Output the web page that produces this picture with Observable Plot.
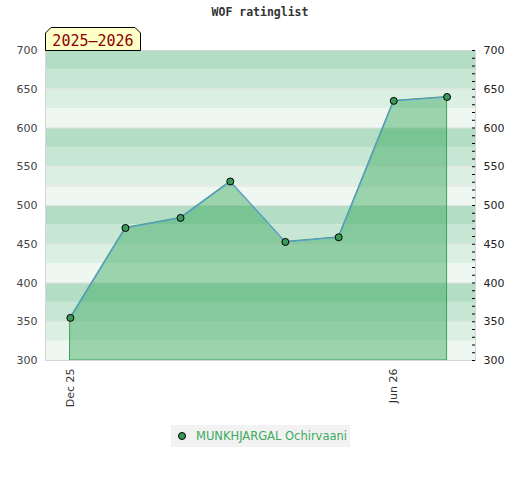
<!DOCTYPE html>
<html>
<head>
<meta charset="utf-8">
<script src="https://cdn.jsdelivr.net/npm/d3@7"></script>
<script src="https://cdn.jsdelivr.net/npm/@observablehq/plot@0.6"></script>
<style>
  body { margin: 0; background: #fff; }
  #wrap { position: relative; width: 520px; height: 480px; font-family: "DejaVu Sans", sans-serif; }
  #title { position: absolute; left: 0; top: 5px; width: 520px; text-align: center; font: bold 11.5px "DejaVu Sans Mono", monospace; color: #333; }
  #season { position: absolute; left: 45px; top: 27px; }
  #legend { position: absolute; left: 171px; top: 425px; width: 179px; height: 22px; background: #f2f2f2; display: flex; align-items: center; font-size: 11.5px; color: #3aaa5c; white-space: nowrap; }
  #legend .dot { width: 6px; height: 6px; border-radius: 50%; background: #3a9a5a; border: 1px solid #000; margin: 0 10px 0 7px; flex: none; }
  #chart { position: absolute; left: 0; top: 0; }
</style>
</head>
<body>
<div id="wrap">
  <div id="chart"></div>
  <div id="title"></div>
  <svg id="season" width="96" height="24"></svg>
  <div id="legend"><span class="dot"></span><span id="legendText"></span></div>
</div>
<script>
// ---- data ----
const titleText = "WOF ratinglist";
const seasonText = "2025\u20132026";
const playerName = "MUNKHJARGAL Ochirvaani";
const dates = ["2025-12-01","2026-01-01","2026-02-01","2026-03-01","2026-04-01","2026-05-01","2026-06-01","2026-07-01"];
const ratings = [355, 471, 484, 531, 453, 459, 635, 640];
const xTickDates = ["2025-12-01", "2026-06-01"];
const yMajorTicks = [300, 350, 400, 450, 500, 550, 600, 650, 700];
const yMinorTicks = [300,310,320,330,340,350,360,370,380,390,400,410,420,430,440,450,460,470,480,490,500,510,520,530,540,550,560,570,580,590,600,610,620,630,640,650,660,670,680,690,700];
const bandLows = [300,325,350,375,400,425,450,475,500,525,550,575,600,625,650,675];
const bandShades = ["#eef7f1", "#dcefe3", "#c8e6d4", "#b3ddc4"];
const bandLines = [350, 400, 450, 500, 525, 550, 600, 650];
const xDomain = ["2025-11-17", "2026-07-17"];
const yDomain = [300, 700];

const data = dates.map((d, i) => ({date: new Date(d), rating: ratings[i]}));
const bands = bandLows.map(lo => ({lo, hi: lo + 25, shade: bandShades[((lo - 300) % 100) / 25]}));

document.getElementById("title").textContent = titleText;
document.getElementById("legendText").textContent = playerName;

// season tag
const s = d3.select("#season");
s.append("path").attr("d", "M0.5,23.5 L0.5,6 L6,0.5 L90,0.5 L95.5,6 L95.5,23.5 Z")
  .attr("fill", "#ffffc8").attr("stroke", "#000").attr("stroke-width", 1);
s.append("text").attr("x", 48).attr("y", 19).attr("text-anchor", "middle")
  .attr("font-family", "DejaVu Sans Mono, monospace").attr("font-size", 15).attr("fill", "#8b0000")
  .text(seasonText);

const chart = Plot.plot({
  width: 520,
  height: 480,
  marginLeft: 45,
  marginRight: 45,
  marginTop: 50,
  marginBottom: 120,
  style: {fontFamily: "DejaVu Sans, sans-serif", fontSize: "11px", color: "#333", background: "transparent"},
  x: {type: "utc", domain: xDomain.map(d => new Date(d))},
  y: {domain: yDomain},
  marks: [
    Plot.rectY(bands, {y1: "lo", y2: "hi", fill: "shade"}),
    Plot.ruleY(bandLines, {stroke: "#e2e2e2", strokeWidth: 1}),
    Plot.areaY(data, {x: "date", y1: 300, y2: "rating", fill: "#34a759", fillOpacity: 0.45, stroke: "#3aa35a", strokeWidth: 1}),
    Plot.lineY(data, {x: "date", y: "rating", stroke: "#5b9bd5", strokeWidth: 1.2}),
    Plot.dot(data, {x: "date", y: "rating", r: 3.5, fill: "#3a9a5a", stroke: "#000", strokeWidth: 1}),
    Plot.frame({stroke: "#d6d6d6"}),
    Plot.axisY({anchor: "left", ticks: yMajorTicks, tickSize: 0, tickPadding: 8, label: null, fill: "#444"}),
    Plot.axisY({anchor: "right", ticks: yMajorTicks, tickSize: 0, tickPadding: 8, label: null, fill: "#222"}),
    Plot.axisY({anchor: "right", ticks: yMinorTicks, tickSize: 3, dx: -4, tickFormat: () => "", label: null, stroke: "#000"}),
    Plot.axisX({ticks: xTickDates.map(d => new Date(d)), tickFormat: d3.utcFormat("%b %y"), tickSize: 0, tickPadding: 8, tickRotate: -90, label: null, fill: "#333"})
  ]
});
document.getElementById("chart").appendChild(chart);
</script>
</body>
</html>
